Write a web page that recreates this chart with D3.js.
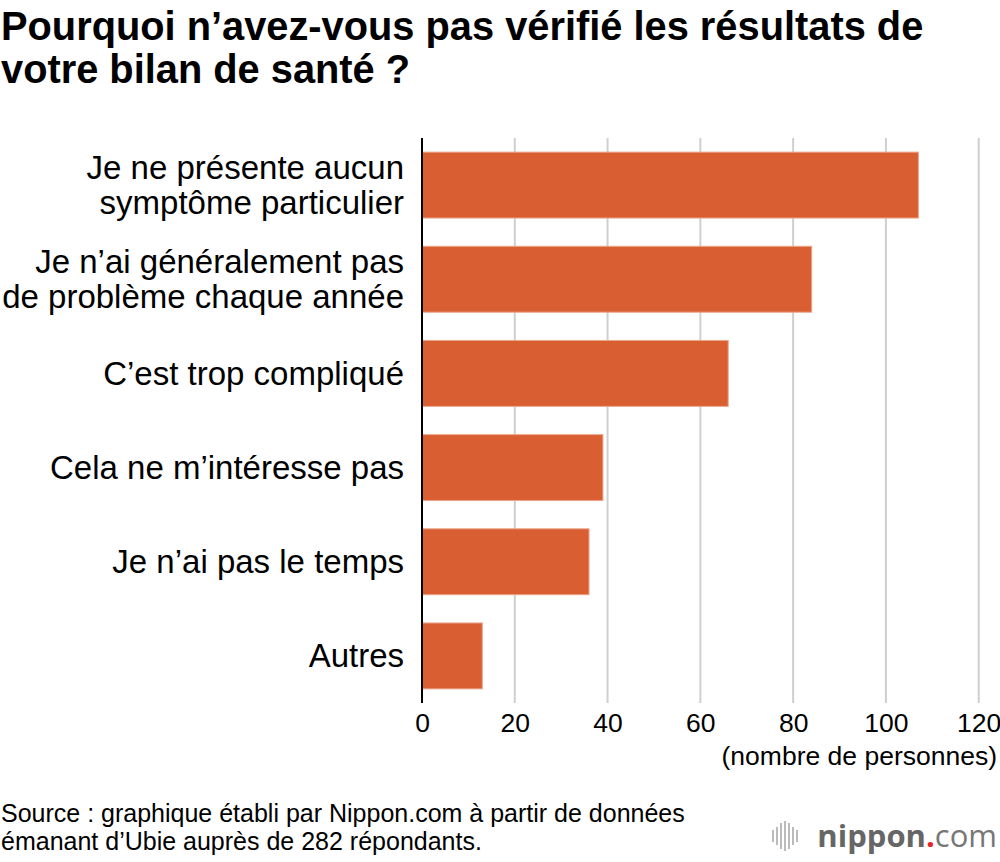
<!DOCTYPE html>
<html lang="fr">
    <head>
        <meta charset="utf-8">
        <title>Pourquoi n'avez-vous pas vérifié les résultats de votre bilan de santé ?</title>
        <script src="https://cdn.jsdelivr.net/npm/d3@7"></script>
        <style type="text/css">
            body { margin: 0; background: #fff; }
            svg { display: block; font-family: "Liberation Sans", Arial, Helvetica, sans-serif; }
            .axis text { font-size: 26.5px; fill: #000; font-family: "Liberation Sans", Arial, sans-serif; }
            .axis path, .axis line { display: none; }
        </style>
    </head>
    <body>
        <script type="text/javascript">

            // data
            var categories = [
                ["Je ne présente aucun", "symptôme particulier"],
                ["Je n\u2019ai généralement pas", "de problème chaque année"],
                ["C\u2019est trop compliqué"],
                ["Cela ne m\u2019intéresse pas"],
                ["Je n\u2019ai pas le temps"],
                ["Autres"]
            ];
            var values = [107, 84, 66, 39, 36, 13];
            var xTicks = [0, 20, 40, 60, 80, 100, 120];

            var titleLines = ["Pourquoi n\u2019avez-vous pas vérifié les résultats de", "votre bilan de santé ?"];
            var sourceLines = ["Source : graphique établi par Nippon.com à partir de données", "émanant d\u2019Ubie auprès de 282 répondants."];
            var unitLabel = "(nombre de personnes)";

            var w = 1000, h = 862;
            var plotLeft = 422, plotRight = 978.7, plotTop = 138, plotBottom = 703;

            var svg = d3.select("body").append("svg")
                .attr("width", w)
                .attr("height", h);

            var xScale = d3.scaleLinear().domain([0, 120]).range([plotLeft, plotRight]);
            var yScale = d3.scaleBand()
                .domain(d3.range(categories.length))
                .range([plotTop, plotBottom])
                .paddingInner(0.3)
                .paddingOuter(0.15);

            // gridlines
            svg.selectAll("line.grid")
                .data(xTicks.slice(1))
                .enter().append("line")
                .attr("class", "grid")
                .attr("x1", function(d){ return xScale(d); })
                .attr("x2", function(d){ return xScale(d); })
                .attr("y1", plotTop)
                .attr("y2", plotBottom)
                .attr("stroke", "#cfcfcf")
                .attr("stroke-width", 2);

            // bars
            svg.selectAll("rect.bar")
                .data(values)
                .enter().append("rect")
                .attr("class", "bar")
                .attr("x", xScale(0))
                .attr("y", function(d, i){ return yScale(i); })
                .attr("width", function(d){ return xScale(d) - xScale(0); })
                .attr("height", yScale.bandwidth())
                .attr("fill", "#d95f33")
                .attr("stroke", "#eaa58a")
                .attr("stroke-width", 1);

            // zero axis line
            svg.append("line")
                .attr("x1", xScale(0)).attr("x2", xScale(0))
                .attr("y1", plotTop).attr("y2", plotBottom)
                .attr("stroke", "#000")
                .attr("stroke-width", 2);

            // x axis labels
            var xAxis = d3.axisBottom(xScale).tickValues(xTicks).tickSize(0).tickPadding(0);
            svg.append("g")
                .attr("class", "axis")
                .attr("transform", "translate(0," + (plotBottom + 10) + ")")
                .call(xAxis)
                .selectAll("text")
                .attr("dy", "0.71em");

            svg.append("text")
                .attr("x", 997)
                .attr("y", 765)
                .attr("text-anchor", "end")
                .style("font-size", "26.5px")
                .text(unitLabel);

            // category labels
            var lineH = 35;
            categories.forEach(function(lines, i) {
                var cy = yScale(i) + yScale.bandwidth() / 2;
                var t = svg.append("text")
                    .attr("text-anchor", "end")
                    .style("font-size", "33px")
                    .attr("fill", "#000");
                lines.forEach(function(s, j) {
                    t.append("tspan")
                        .attr("x", 404)
                        .attr("y", cy + (j - (lines.length - 1) / 2) * lineH)
                        .attr("dy", "0.35em")
                        .text(s);
                });
            });

            // title
            svg.selectAll("text.title")
                .data(titleLines)
                .enter().append("text")
                .attr("class", "title")
                .attr("x", 1)
                .attr("y", function(d, i){ return 40 + i * 43; })
                .style("font-size", "39.8px")
                .style("font-weight", "bold")
                .text(function(d){ return d; });

            // source
            svg.selectAll("text.source")
                .data(sourceLines)
                .enter().append("text")
                .attr("class", "source")
                .attr("x", 1)
                .attr("y", function(d, i){ return 822 + i * 28; })
                .style("font-size", "25px")
                .text(function(d){ return d; });

            // logo
            var logo = svg.append("g").attr("transform", "translate(772,836)");
            var barsH = [12, 18, 26, 30, 26, 18, 12];
            barsH.forEach(function(bh, i) {
                logo.append("rect")
                    .attr("x", i * 4)
                    .attr("y", -bh / 2)
                    .attr("width", 2)
                    .attr("height", bh)
                    .attr("fill", "#bbb");
            });
            var lt = logo.append("text")
                .attr("x", 225)
                .attr("y", 11)
                .attr("text-anchor", "end")
                .style("font-family", "'Open Sans', 'Noto Sans', sans-serif")
                .style("font-size", "31px");
            lt.append("tspan").attr("fill", "#666").style("font-weight", "bold").text("nippon");
            lt.append("tspan").attr("fill", "#e8262a").style("font-weight", "bold").text(".");
            lt.append("tspan").attr("fill", "#777").text("com");

        </script>
    </body>
</html>
